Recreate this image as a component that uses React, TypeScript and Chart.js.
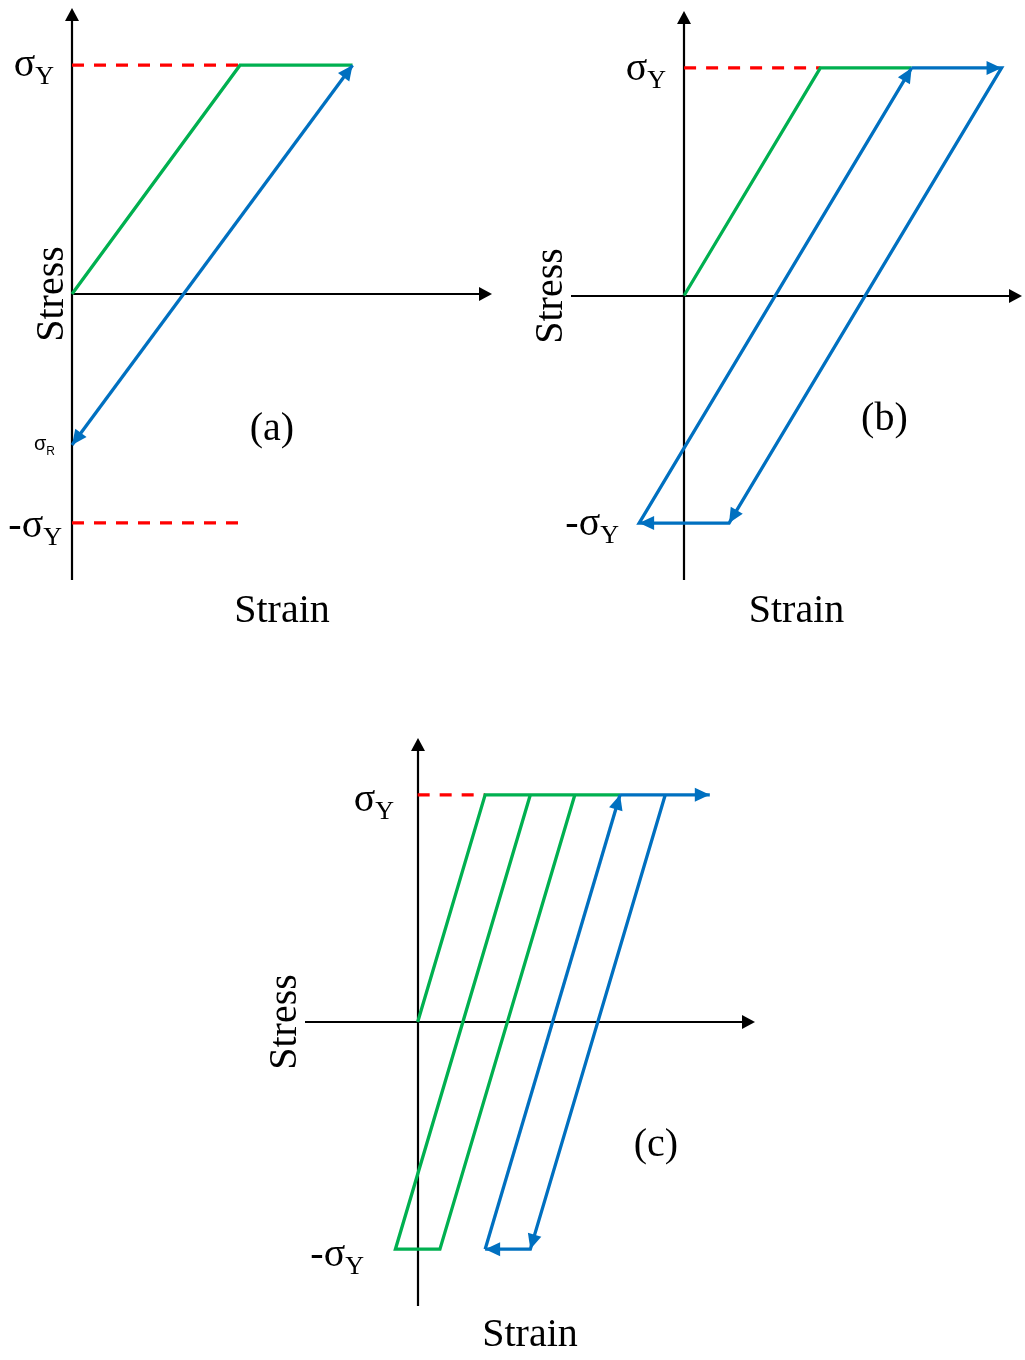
import React, { useEffect, useRef } from "react";
import { Chart, registerables } from "chart.js";

Chart.register(...registerables);

// Stress is normalised by the yield stress σY, strain by the yield strain.
const SIGMA_Y = 1;

// (a) monotonic loading past yield, then elastic unloading to zero strain
const A_LOAD_STRAIN = [0, 1, 1.67];
const A_LOAD_STRESS = [0, SIGMA_Y, SIGMA_Y];
const A_UNLOAD_STRAIN = [1.67, 0];
const A_UNLOAD_STRESS = [SIGMA_Y, -0.66];
const A_GUIDE_STRAIN = [0, 1];
const A_GUIDE_HIGH = [SIGMA_Y, SIGMA_Y];
const A_GUIDE_LOW = [-SIGMA_Y, -SIGMA_Y];

// (b) reversed plasticity: closed stable loop
const B_LOAD_STRAIN = [0, 1, 1.67];
const B_LOAD_STRESS = [0, SIGMA_Y, SIGMA_Y];
const B_LOOP_STRAIN = [1.67, 2.33, 0.33, -0.33, 1.67];
const B_LOOP_STRESS = [SIGMA_Y, SIGMA_Y, -SIGMA_Y, -SIGMA_Y, SIGMA_Y];
const B_GUIDE_STRAIN = [0, 1];
const B_GUIDE_STRESS = [SIGMA_Y, SIGMA_Y];

// (c) ratcheting: strain accumulates every cycle
const C_PLATEAU_STRAIN = [0, 1, 3];
const C_PLATEAU_STRESS = [0, SIGMA_Y, SIGMA_Y];
const C_CYCLE1_STRAIN = [1.67, -0.33, 0.33, 2.33];
const C_CYCLE1_STRESS = [SIGMA_Y, -SIGMA_Y, -SIGMA_Y, SIGMA_Y];
const C_RELOAD_STRAIN = [1, 3];
const C_RELOAD_STRESS = [-SIGMA_Y, SIGMA_Y];
const C_FLOW_STRAIN = [3, 4.33];
const C_FLOW_STRESS = [SIGMA_Y, SIGMA_Y];
const C_CYCLE2_STRAIN = [3.67, 1.67, 1];
const C_CYCLE2_STRESS = [SIGMA_Y, -SIGMA_Y, -SIGMA_Y];
const C_GUIDE_STRAIN = [0, 1];
const C_GUIDE_STRESS = [SIGMA_Y, SIGMA_Y];

const GREEN = "#00B050";
const BLUE = "#0070C0";
const RED = "#FF0000";
const SERIF = '"Liberation Serif", "Times New Roman", serif';
const SANS = '"Liberation Sans", Arial, sans-serif';

type Pt = { x: number; y: number };
const pts = (xs: number[], ys: number[]): Pt[] => xs.map((x, i) => ({ x, y: ys[i] }));

function path(xs: number[], ys: number[], color: string, extra: Record<string, unknown> = {}) {
  return {
    data: pts(xs, ys),
    borderColor: color,
    backgroundColor: color,
    borderWidth: 3.3,
    pointRadius: 0,
    pointHoverRadius: 0,
    fill: false,
    tension: 0,
    clip: false,
    ...extra,
  };
}

function arrowHead(ctx: CanvasRenderingContext2D, tx: number, ty: number, dx: number, dy: number, len: number, hw: number) {
  const n = Math.hypot(dx, dy) || 1;
  const ux = dx / n;
  const uy = dy / n;
  const bx = tx - ux * len;
  const by = ty - uy * len;
  ctx.beginPath();
  ctx.moveTo(tx, ty);
  ctx.lineTo(bx - uy * hw, by + ux * hw);
  ctx.lineTo(bx + uy * hw, by - ux * hw);
  ctx.closePath();
  ctx.fill();
}

type SigmaLabel = {
  main: string;
  sub: string;
  value: number;
  gap: number;
  drop: number;
  font?: string;
  size?: number;
  subSize?: number;
  subDrop?: number;
};

type Decor = {
  tag: string;
  tagX: number;
  tagY: number;
  strainDrop: number;
  sigmas: SigmaLabel[];
};

function makeDecor(d: Decor) {
  return {
    id: "panelDecor",
    beforeDatasetsDraw(chart: any) {
      const { ctx } = chart;
      const x = chart.scales.x;
      const y = chart.scales.y;
      const x0 = Math.round(x.getPixelForValue(0));
      const y0 = Math.round(y.getPixelForValue(0));
      const xl = x.getPixelForValue(x.min);
      const xr = x.getPixelForValue(x.max);
      const yt = y.getPixelForValue(y.max);
      const yb = y.getPixelForValue(y.min);
      ctx.save();
      ctx.strokeStyle = "#000";
      ctx.fillStyle = "#000";
      ctx.lineWidth = 2.2;
      ctx.beginPath();
      ctx.moveTo(xl, y0);
      ctx.lineTo(xr - 8, y0);
      ctx.moveTo(x0, yb);
      ctx.lineTo(x0, yt + 8);
      ctx.stroke();
      arrowHead(ctx, xr, y0, 1, 0, 13, 7);
      arrowHead(ctx, x0, yt, 0, -1, 13, 7);
      ctx.restore();
    },
    afterDatasetsDraw(chart: any) {
      const { ctx } = chart;
      const x = chart.scales.x;
      const y = chart.scales.y;
      const x0 = Math.round(x.getPixelForValue(0));
      const y0 = Math.round(y.getPixelForValue(0));
      const xl = x.getPixelForValue(x.min);
      const xr = x.getPixelForValue(x.max);
      const yb = y.getPixelForValue(y.min);
      ctx.save();

      // arrowheads on the loading paths
      chart.data.datasets.forEach((ds: any, i: number) => {
        if (!ds.arrows) return;
        const els = chart.getDatasetMeta(i).data;
        ctx.fillStyle = ds.borderColor;
        ds.arrows.forEach((k: number) => {
          const p = els[k];
          const q = k > 0 ? els[k - 1] : els[1];
          arrowHead(ctx, p.x, p.y, p.x - q.x, p.y - q.y, 15, 7);
        });
      });

      ctx.fillStyle = "#000";
      ctx.textBaseline = "alphabetic";

      // axis titles
      ctx.font = `40px ${SERIF}`;
      ctx.textAlign = "center";
      ctx.fillText("Strain", (xl + xr) / 2, yb + d.strainDrop);
      ctx.save();
      ctx.translate(xl - 9, y0);
      ctx.rotate(-Math.PI / 2);
      ctx.fillText("Stress", 0, 0);
      ctx.restore();

      // panel tag
      ctx.fillText(d.tag, x.getPixelForValue(d.tagX), y.getPixelForValue(d.tagY));

      // stress level labels
      ctx.textAlign = "left";
      d.sigmas.forEach((s) => {
        const font = s.font ?? SERIF;
        const size = s.size ?? 40;
        const subSize = s.subSize ?? 26;
        ctx.font = `${size}px ${font}`;
        const wMain = ctx.measureText(s.main).width;
        ctx.font = `${subSize}px ${font}`;
        const wSub = ctx.measureText(s.sub).width;
        const left = x0 - s.gap - wMain - wSub;
        const base = y.getPixelForValue(s.value) + s.drop;
        ctx.font = `${size}px ${font}`;
        ctx.fillText(s.main, left, base);
        ctx.font = `${subSize}px ${font}`;
        ctx.fillText(s.sub, left + wMain, base + (s.subDrop ?? 8));
      });
      ctx.restore();
    },
  };
}

type Panel = {
  left: number;
  top: number;
  width: number;
  height: number;
  padding: { left: number; right: number; top: number; bottom: number };
  xMin: number;
  xMax: number;
  datasets: any[];
  decor: Decor;
};

const dash = { borderDash: [12, 10] };

const PANELS: Panel[] = [
  {
    left: 0,
    top: 0,
    width: 512,
    height: 640,
    padding: { left: 72, right: 20, top: 8, bottom: 60 },
    xMin: 0,
    xMax: 2.5,
    datasets: [
      path(A_UNLOAD_STRAIN, A_UNLOAD_STRESS, BLUE, { arrows: [0, 1], order: 0 }),
      path(A_LOAD_STRAIN, A_LOAD_STRESS, GREEN, { order: 1 }),
      path(A_GUIDE_STRAIN, A_GUIDE_HIGH, RED, { ...dash, order: 2 }),
      path(A_GUIDE_STRAIN, A_GUIDE_LOW, RED, { ...dash, order: 2 }),
    ],
    decor: {
      tag: "(a)",
      tagX: 1.19,
      tagY: -0.64,
      strainDrop: 42,
      sigmas: [
        { main: "σ", sub: "Y", value: SIGMA_Y, gap: 18, drop: 11 },
        { main: "-σ", sub: "Y", value: -SIGMA_Y, gap: 10, drop: 14 },
        { main: "σ", sub: "R", value: -0.66, gap: 17, drop: 5, font: SANS, size: 20, subSize: 12, subDrop: 5 },
      ],
    },
  },
  {
    left: 512,
    top: 0,
    width: 513,
    height: 640,
    padding: { left: 59, right: 3, top: 11, bottom: 60 },
    xMin: -0.83,
    xMax: 2.48,
    datasets: [
      path(B_LOOP_STRAIN, B_LOOP_STRESS, BLUE, { arrows: [1, 2, 3, 4], order: 0 }),
      path(B_LOAD_STRAIN, B_LOAD_STRESS, GREEN, { order: 1 }),
      path(B_GUIDE_STRAIN, B_GUIDE_STRESS, RED, { ...dash, order: 2 }),
    ],
    decor: {
      tag: "(b)",
      tagX: 1.47,
      tagY: -0.59,
      strainDrop: 42,
      sigmas: [
        { main: "σ", sub: "Y", value: SIGMA_Y, gap: 18, drop: 12 },
        { main: "-σ", sub: "Y", value: -SIGMA_Y, gap: 65, drop: 12 },
      ],
    },
  },
  {
    left: 250,
    top: 700,
    width: 530,
    height: 660,
    padding: { left: 55, right: 25, top: 38, bottom: 54 },
    xMin: -1.67,
    xMax: 5.0,
    datasets: [
      path(C_FLOW_STRAIN, C_FLOW_STRESS, BLUE, { arrows: [1], order: 0 }),
      path(C_RELOAD_STRAIN, C_RELOAD_STRESS, BLUE, { arrows: [1], order: 0 }),
      path(C_CYCLE2_STRAIN, C_CYCLE2_STRESS, BLUE, { arrows: [1, 2], order: 0 }),
      path(C_PLATEAU_STRAIN, C_PLATEAU_STRESS, GREEN, { order: 1 }),
      path(C_CYCLE1_STRAIN, C_CYCLE1_STRESS, GREEN, { order: 1 }),
      path(C_GUIDE_STRAIN, C_GUIDE_STRESS, RED, { ...dash, order: 2 }),
    ],
    decor: {
      tag: "(c)",
      tagX: 3.53,
      tagY: -0.59,
      strainDrop: 40,
      sigmas: [
        { main: "σ", sub: "Y", value: SIGMA_Y, gap: 24, drop: 16 },
        { main: "-σ", sub: "Y", value: -SIGMA_Y, gap: 54, drop: 17 },
      ],
    },
  },
];

function PanelChart({ panel }: { panel: Panel }) {
  const ref = useRef<HTMLCanvasElement>(null);
  useEffect(() => {
    if (!ref.current) return;
    const chart = new Chart(ref.current, {
      type: "line",
      data: { datasets: panel.datasets },
      options: {
        responsive: false,
        animation: false,
        events: [],
        layout: { padding: panel.padding },
        scales: {
          x: { type: "linear", min: panel.xMin, max: panel.xMax, display: false },
          y: { type: "linear", min: -1.25, max: 1.25, display: false },
        },
        plugins: { legend: { display: false }, tooltip: { enabled: false } },
      },
      plugins: [makeDecor(panel.decor)],
    } as any);
    return () => chart.destroy();
  }, [panel]);
  return (
    <canvas
      ref={ref}
      width={panel.width}
      height={panel.height}
      style={{ position: "absolute", left: panel.left, top: panel.top, width: panel.width, height: panel.height }}
    />
  );
}

export default function App() {
  return (
    <div style={{ position: "absolute", left: 0, top: 0, width: 1025, height: 1360, background: "#fff" }}>
      {PANELS.map((p, i) => (
        <PanelChart key={i} panel={p} />
      ))}
    </div>
  );
}
